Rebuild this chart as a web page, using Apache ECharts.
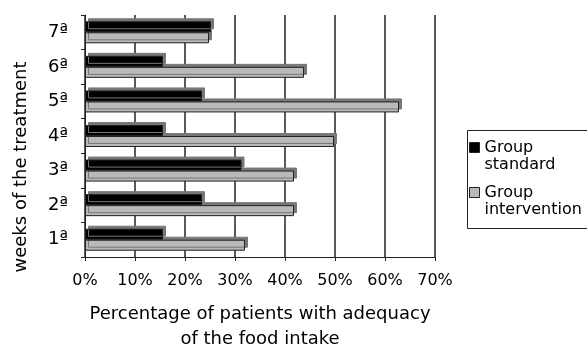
<!DOCTYPE html>
<html><head><meta charset="utf-8">
<script src="https://cdn.jsdelivr.net/npm/echarts@6/dist/echarts.min.js"></script>
<style>html,body{margin:0;padding:0;background:#fff}#c{width:587px;height:357px}</style>
</head><body><div id="c"></div>
<script>
const weeks = ['1ª','2ª','3ª','4ª','5ª','6ª','7ª'];
const groupStandard = [15.6, 23.4, 31.3, 15.6, 23.4, 15.6, 25.2];
const groupIntervention = [32.0, 41.8, 41.8, 49.8, 62.8, 43.8, 24.8];
const xTicks = [0, 10, 20, 30, 40, 50, 60, 70];
const seriesNames = ['Group\nstandard', 'Group\nintervention'];

const FONT = 'DejaVu Sans';
const chart = echarts.init(document.getElementById('c'), null, {renderer: 'canvas'});
const barStyle = (color) => ({
  color: color, borderColor: '#222', borderWidth: 1,
  shadowColor: '#777', shadowOffsetX: 3, shadowOffsetY: -3, shadowBlur: 0
});
chart.setOption({
  animation: false,
  textStyle: {fontFamily: FONT},
  grid: {left: 85, right: 152, top: 15, bottom: 93, containLabel: false},
  xAxis: {
    type: 'value', min: xTicks[0], max: xTicks[xTicks.length-1], interval: 10,
    axisLine: {show: true, lineStyle: {color: '#222', width: 1}},
    axisTick: {show: true, length: 4, lineStyle: {color: '#222'}},
    axisLabel: {formatter: v => v + '%', color: '#000', fontSize: 16, margin: 16, fontFamily: FONT},
    splitLine: {show: true, lineStyle: {color: '#222', width: 1.5}},
    name: 'Percentage of patients with adequacy\nof the food intake',
    nameLocation: 'middle', nameGap: 45,
    nameTextStyle: {fontSize: 18, color: '#000', lineHeight: 25, fontFamily: FONT}
  },
  yAxis: {
    type: 'category', data: weeks,
    axisLine: {show: true, lineStyle: {color: '#222', width: 1}},
    axisTick: {show: true, length: 4, lineStyle: {color: '#222'}},
    axisLabel: {color: '#000', fontSize: 18, margin: 17, fontFamily: FONT},
    name: 'weeks of the treatment', nameLocation: 'middle', nameGap: 55, nameRotate: 90,
    nameTextStyle: {fontSize: 18, color: '#000', padding: [0, 62, 0, 0], fontFamily: FONT}
  },
  legend: {
    orient: 'vertical', left: 469, top: 122, padding: 0, itemGap: -6,
    itemWidth: 10, itemHeight: 10, icon: 'rect',
    data: [seriesNames[0], seriesNames[1]],
    formatter: name => ' \n' + name,
    textStyle: {fontSize: 16, lineHeight: 17, color: '#000', fontFamily: FONT},
    itemStyle: {borderColor: '#222', borderWidth: 1}
  },
  graphic: [{type: 'rect', left: 465, top: 128, shape: {width: 130, height: 98},
    style: {fill: 'none', stroke: '#222', lineWidth: 1}, z: -1}],
  series: [
    {name: seriesNames[0], type: 'bar', data: groupStandard, barWidth: 11, barGap: '0%', z: 3,
     itemStyle: barStyle('#000')},
    {name: seriesNames[1], type: 'bar', data: groupIntervention, barWidth: 11, barGap: '0%', z: 2,
     itemStyle: barStyle('#b9b9b9')}
  ]
});
</script></body></html>
